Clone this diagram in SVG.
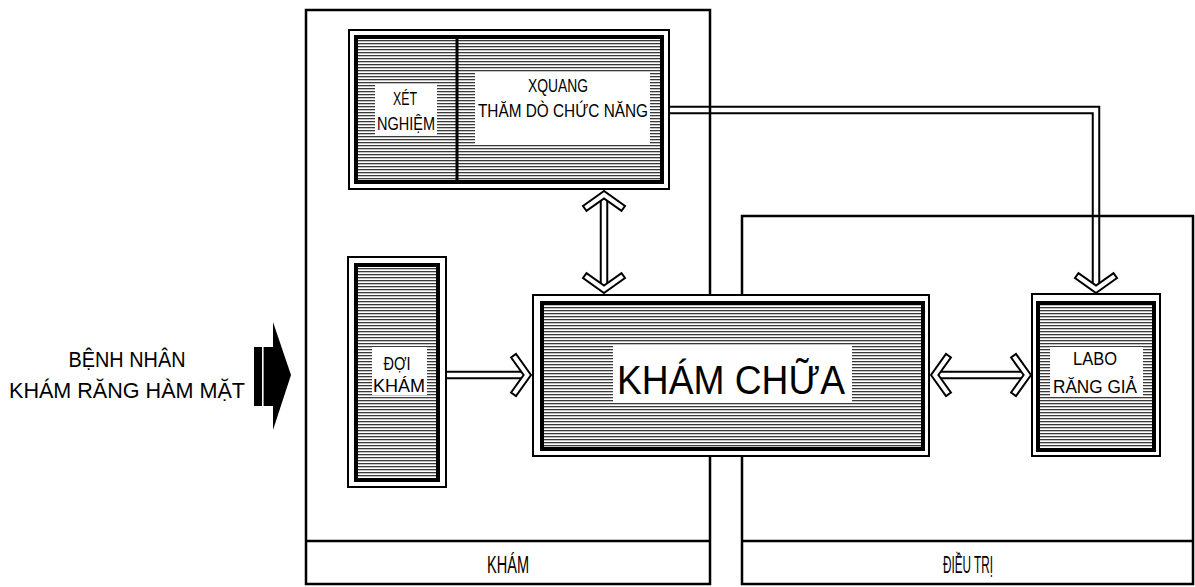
<svg xmlns="http://www.w3.org/2000/svg" width="1195" height="587" viewBox="0 0 1195 587">
<style>
  text { font-family: "Liberation Sans", Arial, sans-serif; fill: #000; text-anchor: middle; }
  .outer { fill: #fff; stroke: #000; stroke-width: 2; }
  .inner { fill: url(#hatch); stroke: #000; stroke-width: 4; }
  .tbox { fill: #fff; stroke: none; }
  .wall { fill: none; stroke: #000; stroke-width: 2.5; }
  .shaftB { fill: none; stroke: #000; stroke-width: 8.5; stroke-linejoin: miter; }
  .shaftW { fill: none; stroke: #fff; stroke-width: 4.5; stroke-linejoin: miter; }
  .chev { fill: #fff; stroke: #000; stroke-width: 2; stroke-linejoin: miter; }
  .lbl { font-size: 17.5px; }
  .reg { font-size: 23px; }
</style>
<defs>
  <pattern id="hatch" patternUnits="userSpaceOnUse" width="6" height="3">
    <rect width="6" height="3" fill="#fff"/>
    <rect y="1" width="6" height="1.3" fill="#3a3a3a"/>
  </pattern>
  <polygon id="chevron" points="0,0 -15,-21 -19.9,-17.5 -7.4,0 -19.9,17.5 -15,21"/>
</defs>

<!-- connectors -->
<g id="connectors">
  <path class="shaftB" d="M446 375 H527 M604 196 V288 M936 375 H1026 M669 110 H1096 V288"/>
  <path class="shaftW" d="M446 375 H527 M604 196 V288 M936 375 H1026 M669 110 H1096 V288"/>
  <use href="#chevron" class="chev" transform="translate(531,375)"/>
  <use href="#chevron" class="chev" transform="translate(604,191) rotate(-90)"/>
  <use href="#chevron" class="chev" transform="translate(604,293) rotate(90)"/>
  <use href="#chevron" class="chev" transform="translate(931,375) rotate(180)"/>
  <use href="#chevron" class="chev" transform="translate(1031,375)"/>
  <use href="#chevron" class="chev" transform="translate(1096,293) rotate(90)"/>
</g>

<!-- regions -->
<g id="region-kham">
  <rect class="wall" x="306" y="10" width="404" height="574"/>
  <line class="wall" x1="306" y1="541" x2="710" y2="541"/>
  <text class="reg" x="508" y="573" textLength="42" lengthAdjust="spacingAndGlyphs">KHÁM</text>
</g>
<g id="region-dieutri">
  <rect class="wall" x="742" y="216" width="451" height="368"/>
  <line class="wall" x1="742" y1="541" x2="1193" y2="541"/>
  <text class="reg" x="968" y="573" textLength="50" lengthAdjust="spacingAndGlyphs">ĐIỀU TRỊ</text>
</g>

<!-- patient input -->
<g id="patient">
  <text x="127" y="367" font-size="22" textLength="117" lengthAdjust="spacingAndGlyphs">BỆNH NHÂN</text>
  <text x="127" y="398" font-size="22" textLength="236" lengthAdjust="spacingAndGlyphs">KHÁM RĂNG HÀM MẶT</text>
  <rect x="254" y="347" width="20" height="59" fill="#000"/>
  <rect x="262" y="347" width="1.6" height="59" fill="#fff"/>
  <polygon points="273,322 291,375 273,430" fill="#000"/>
</g>

<!-- top box -->
<g id="node-xetnghiem-xquang">
  <rect class="outer" x="349" y="30" width="320" height="159"/>
  <rect class="inner" x="356" y="37" width="306" height="145"/>
  <line x1="457" y1="37" x2="457" y2="182" stroke="#000" stroke-width="3"/>
  <rect class="tbox" x="375" y="85" width="62" height="50"/>
  <text class="lbl" x="405" y="105" textLength="24" lengthAdjust="spacingAndGlyphs">XÉT</text>
  <text class="lbl" x="406" y="130" textLength="58" lengthAdjust="spacingAndGlyphs">NGHIỆM</text>
  <rect class="tbox" x="475" y="73" width="175" height="72"/>
  <text class="lbl" x="558" y="92" textLength="60" lengthAdjust="spacingAndGlyphs">XQUANG</text>
  <text class="lbl" x="563" y="117" textLength="170" lengthAdjust="spacingAndGlyphs">THĂM DÒ CHỨC NĂNG</text>
</g>

<g id="node-doikham">
  <rect class="outer" x="348" y="257" width="98" height="230"/>
  <rect class="inner" x="356" y="265" width="82" height="215"/>
  <rect class="tbox" x="372" y="347" width="55" height="48"/>
  <text class="lbl" x="397" y="370" textLength="27" lengthAdjust="spacingAndGlyphs">ĐỢI</text>
  <text class="lbl" x="399" y="392" textLength="52" lengthAdjust="spacingAndGlyphs">KHÁM</text>
</g>

<g id="node-khamchua">
  <rect class="outer" x="533" y="295" width="396" height="161"/>
  <rect class="inner" x="542" y="303" width="381" height="146"/>
  <rect class="tbox" x="613" y="346" width="239" height="57"/>
  <text x="731" y="394" font-size="40" textLength="228" lengthAdjust="spacingAndGlyphs">KHÁM CHỮA</text>
</g>

<g id="node-labo">
  <rect class="outer" x="1032" y="294" width="128" height="162"/>
  <rect class="inner" x="1038" y="303" width="116" height="147"/>
  <rect class="tbox" x="1050" y="347" width="93" height="50"/>
  <text class="lbl" x="1095" y="365" textLength="44" lengthAdjust="spacingAndGlyphs">LABO</text>
  <text class="lbl" x="1095" y="393" textLength="84" lengthAdjust="spacingAndGlyphs">RĂNG GIẢ</text>
</g>
</svg>
